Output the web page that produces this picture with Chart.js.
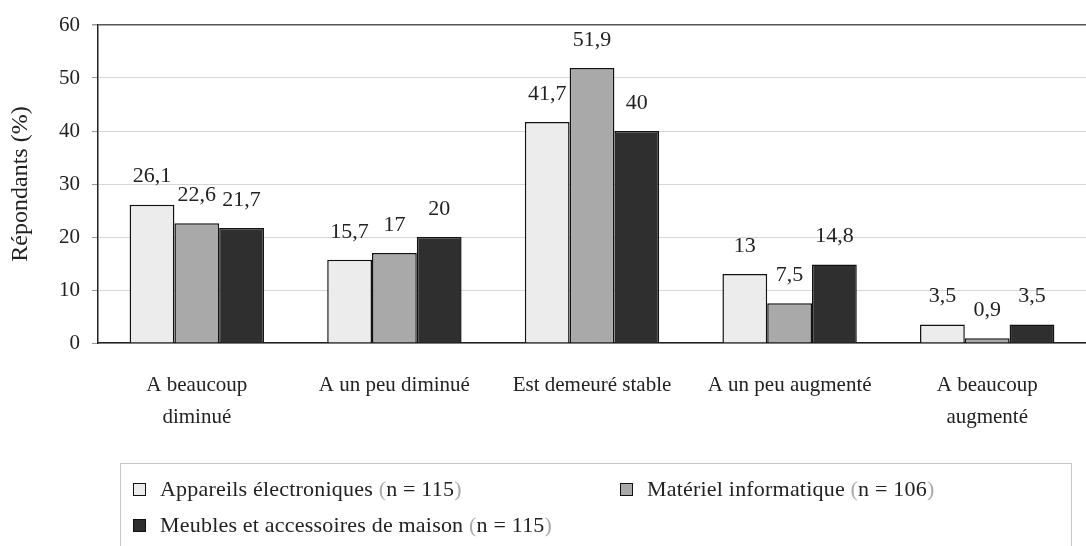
<!DOCTYPE html>
<html>
<head>
<meta charset="utf-8">
<script src="https://cdn.jsdelivr.net/npm/chart.js@4"></script>
<style>
  html, body { margin: 0; padding: 0; background: #fff; }
  #wrap { position: relative; width: 1086px; height: 546px; overflow: hidden; }
  #legend {
    position: absolute; left: 120px; top: 463px; width: 952px; height: 120px;
    border: 1px solid #c6c6c6; box-sizing: border-box;
    font-family: "Liberation Serif", "DejaVu Serif", serif; font-size: 22px; color: #222;
  }
  .item { position: absolute; white-space: nowrap; display: flex; align-items: center; letter-spacing: 0.2px; }
  .sw { width: 11px; height: 11px; border: 1.5px solid #111; margin-right: 14px; }
  .paren { color: #aaa; }
</style>
</head>
<body>
<div id="wrap">
  <canvas id="c" width="1086" height="546"></canvas>
  <div id="legend"></div>
</div>
<script>
// Categories and series
const categories = [
  ["A beaucoup", "diminué"],
  "A un peu diminué",
  "Est demeuré stable",
  "A un peu augmenté",
  ["A beaucoup", "augmenté"]
];
const seriesNames = [
  "Appareils électroniques",
  "Matériel informatique",
  "Meubles et accessoires de maison"
];
const seriesCounts = ["n = 115", "n = 106", "n = 115"];
const appareils = [26.1, 15.7, 41.7, 13, 3.5];
const materiel = [22.6, 17, 51.9, 7.5, 0.9];
const meubles = [21.7, 20, 40, 14.8, 3.5];
const yTicks = [0, 10, 20, 30, 40, 50, 60];

const fills = ["#ececec", "#a9a9a9", "#2f2f2f"];
const FONT = "'Liberation Serif', 'DejaVu Serif', serif";

// Value labels above each bar, written with a decimal comma
const valueLabels = {
  id: "valueLabels",
  afterDatasetsDraw(chart) {
    const ctx = chart.ctx;
    ctx.save();
    ctx.font = "22px " + FONT;
    ctx.fillStyle = "#222";
    ctx.textAlign = "center";
    ctx.textBaseline = "middle";
    chart.data.datasets.forEach((ds, i) => {
      chart.getDatasetMeta(i).data.forEach((bar, j) => {
        const txt = String(ds.data[j]).replace(".", ",");
        ctx.fillText(txt, bar.x, bar.y - 28);
      });
    });
    ctx.restore();
  }
};

new Chart(document.getElementById("c"), {
  type: "bar",
  data: {
    labels: categories,
    datasets: [appareils, materiel, meubles].map((d, i) => ({
      label: seriesNames[i],
      data: d,
      backgroundColor: fills[i],
      borderColor: "#111",
      borderWidth: 1.5,
      categoryPercentage: 0.68,
      barPercentage: 1
    }))
  },
  options: {
    responsive: false,
    animation: false,
    layout: { padding: { top: 25, right: 0, bottom: 103, left: 0 } },
    plugins: { legend: { display: false }, tooltip: { enabled: false } },
    scales: {
      x: {
        grid: { display: false },
        border: { display: true, color: "#222", width: 1.5 },
        ticks: {
          color: "#222",
          font: { family: FONT, size: 21, lineHeight: 1.5 },
          maxRotation: 0,
          autoSkip: false,
          padding: 19
        },
        afterFit(s) { s.height = 100; }
      },
      y: {
        min: 0, max: 60,
        afterBuildTicks(s) { s.ticks = yTicks.map(v => ({ value: v })); },
        grid: {
          color: (c) => c.tick && c.tick.value === 60 ? "#555" : "#d6d6d6",
          lineWidth: (c) => c.tick && c.tick.value === 60 ? 1.5 : 1,
          tickLength: 6,
          tickColor: "#999"
        },
        border: { display: true, color: "#222", width: 1.5 },
        ticks: {
          color: "#222",
          font: { family: FONT, size: 21 },
          padding: 12
        },
        title: {
          display: true,
          text: "Répondants (%)",
          color: "#222",
          font: { family: FONT, size: 24 },
          padding: { top: 6, bottom: 2 }
        },
        afterFit(s) { s.width = 98; }
      }
    }
  },
  plugins: [valueLabels]
});

// Legend box below the plot
const legend = document.getElementById("legend");
const spots = [[12, 12], [499, 12], [12, 48]];
seriesNames.forEach((name, i) => {
  const el = document.createElement("div");
  el.className = "item";
  el.style.left = spots[i][0] + "px";
  el.style.top = spots[i][1] + "px";
  el.innerHTML = '<span class="sw" style="background:' + fills[i] + '"></span>' +
    '<span>' + name + ' <span class="paren">(</span>' + seriesCounts[i] + '<span class="paren">)</span></span>';
  legend.appendChild(el);
});
</script>
</body>
</html>
